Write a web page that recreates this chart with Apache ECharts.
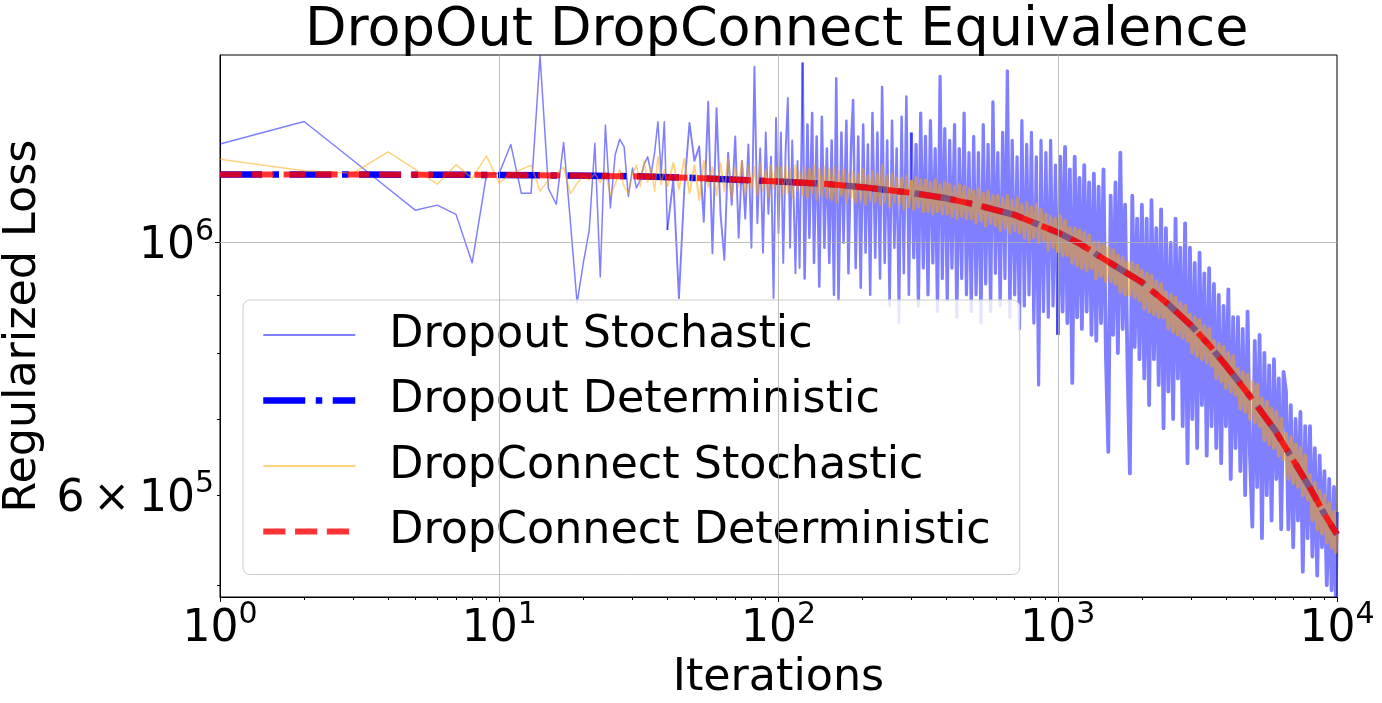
<!DOCTYPE html>
<html>
<head>
<meta charset="utf-8">
<script src="https://cdn.jsdelivr.net/npm/echarts@6/dist/echarts.min.js"></script>
<style>
html, body { margin: 0; padding: 0; background: #ffffff; }
#chart { width: 1382px; height: 703px; }
</style>
</head>
<body>
<div id="chart"></div>
<script>
// ---------------- data ----------------
const seriesNames = ['Dropout Stochastic', 'Dropout Deterministic', 'DropConnect Stochastic', 'DropConnect Deterministic'];

// sampled iterations for the stochastic runs
const iterations = [
  1,2,3,4,5,6,7,8,9,10,
  11,12,13,14,15,16,17,18,19,20,
  21,22,23,24,25,26,27,28,29,30,
  31,32,33,34,35,36,37,38,39,40,
  42,44,46,48,50,52,54,56,58,60,
  62,64,66,68,70,72,74,76,78,80,
  82,84,86,88,90,92,94,96,98,100,
  102,104,106,108,110,112,115,117,119,122,
  124,127,129,132,134,137,140,143,146,149,
  152,155,158,161,164,168,171,175,178,182,
  185,189,193,197,201,205,209,213,217,222,
  226,231,235,240,245,250,255,260,265,270,
  276,281,287,293,299,305,311,317,323,330,
  336,343,350,357,364,371,379,386,394,402,
  410,418,427,435,444,453,462,471,481,490,
  500,510,520,531,541,552,563,575,586,598,
  610,622,635,647,660,674,687,701,715,729,
  744,759,774,789,805,821,838,854,871,889,
  907,925,943,962,981,1001,1021,1041,1062,1083,
  1105,1127,1150,1173,1196,1220,1244,1269,1295,1321,
  1347,1374,1401,1429,1458,1487,1517,1547,1578,1610,
  1642,1675,1708,1742,1777,1813,1849,1886,1924,1962,
  2001,2041,2082,2124,2166,2210,2254,2299,2345,2392,
  2440,2488,2538,2589,2641,2693,2747,2802,2858,2915,
  2974,3033,3094,3156,3219,3283,3349,3416,3484,3554,
  3625,3697,3771,3847,3924,4002,4082,4164,4247,4332,
  4419,4507,4597,4689,4783,4879,4976,5076,5177,5281,
  5386,5494,5604,5716,5830,5947,6066,6187,6311,6437,
  6566,6697,6831,6968,7107,7249,7394,7542,7693,7847,
  8004,8164,8327,8494,8664,8837,9014,9194,9378,9565,
  9757,9900,10000
];

const dropoutStochastic = [
  1.221e6,1.278e6,1.181e6,1.116e6,1.068e6,1.079e6,1.059e6,0.960e6,1.147e6,1.151e6,
  1.220e6,1.105e6,1.105e6,1.460e6,1.116e6,1.081e6,1.225e6,1.040e6,0.885e6,0.960e6,
  1.026e6,1.223e6,0.933e6,1.269e6,1.073e6,1.194e6,1.233e6,1.214e6,1.098e6,1.163e6,
  1.117e6,1.136e6,1.171e6,1.190e6,1.150e6,1.200e6,1.277e6,1.150e6,1.277e6,1.026e6,
  1.136e6,0.894e6,1.117e6,1.274e6,1.180e6,1.215e6,1.043e6,1.330e6,0.979e6,1.313e6,
  1.060e6,0.966e6,1.200e6,1.080e6,1.240e6,1.010e6,1.180e6,1.050e6,1.220e6,0.990e6,
  1.428e6,1.040e6,1.210e6,0.980e6,1.250e6,1.060e6,1.190e6,0.894e6,1.287e6,1.020e6,
  1.250e6,0.960e6,1.200e6,1.340e6,0.990e6,1.230e6,0.940e6,1.180e6,0.950e6,1.440e6,
  0.930e6,1.270e6,1.010e6,1.300e6,0.960e6,1.240e6,0.915e6,1.290e6,0.990e6,1.210e6,
  0.960e6,1.230e6,0.900e6,1.395e6,0.890e6,1.250e6,1.000e6,1.280e6,0.940e6,1.220e6,
  1.335e6,0.950e6,1.240e6,0.913e6,1.270e6,0.980e6,1.220e6,0.900e6,1.300e6,0.970e6,
  1.250e6,0.930e6,1.370e6,0.960e6,1.230e6,0.880e6,1.280e6,0.990e6,1.210e6,0.850e6,
  1.290e6,0.940e6,1.344e6,0.900e6,1.250e6,0.970e6,1.220e6,0.880e6,1.300e6,0.950e6,
  1.240e6,0.900e6,1.280e6,0.960e6,1.210e6,0.870e6,1.400e6,0.930e6,1.260e6,0.890e6,
  1.230e6,0.950e6,1.270e6,0.860e6,1.210e6,0.930e6,1.300e6,0.900e6,1.200e6,0.870e6,
  1.240e6,0.900e6,1.200e6,0.850e6,1.270e6,0.920e6,1.220e6,0.870e6,1.330e6,0.940e6,
  1.200e6,0.880e6,1.250e6,0.930e6,1.416e6,0.860e6,1.230e6,0.900e6,1.190e6,0.840e6,
  1.280e6,0.880e6,1.220e6,0.900e6,1.250e6,0.850e6,1.190e6,0.750e6,1.230e6,0.870e6,
  1.200e6,0.860e6,1.230e6,0.880e6,1.170e6,0.830e6,1.190e6,0.870e6,1.214e6,0.850e6,
  1.160e6,0.753e6,1.190e6,0.860e6,1.140e6,0.840e6,1.170e6,0.870e6,1.130e6,0.830e6,
  1.150e6,0.820e6,1.120e6,0.850e6,1.160e6,0.800e6,0.655e6,1.100e6,0.830e6,1.130e6,
  0.800e6,1.200e6,0.840e6,1.080e6,0.780e6,0.627e6,1.100e6,0.810e6,1.050e6,0.790e6,
  1.080e6,0.760e6,1.050e6,0.720e6,1.090e6,0.790e6,1.030e6,0.750e6,1.070e6,0.687e6,
  1.030e6,0.740e6,1.000e6,0.700e6,1.050e6,0.760e6,0.990e6,0.690e6,1.040e6,0.640e6,
  0.990e6,0.700e6,0.960e6,0.660e6,0.980e6,0.720e6,0.940e6,0.650e6,0.950e6,0.690e6,
  0.920e6,0.660e6,0.900e6,0.640e6,0.880e6,0.690e6,0.910e6,0.620e6,0.860e6,0.660e6,
  0.860e6,0.630e6,0.840e6,0.600e6,0.870e6,0.650e6,0.563e6,0.820e6,0.610e6,0.830e6,
  0.550e6,0.800e6,0.600e6,0.780e6,0.570e6,0.790e6,0.620e6,0.760e6,0.560e6,0.770e6,
  0.740e6,0.560e6,0.720e6,0.540e6,0.700e6,0.570e6,0.710e6,0.514e6,0.690e6,0.550e6,
  0.690e6,0.530e6,0.660e6,0.510e6,0.650e6,0.540e6,0.630e6,0.500e6,0.620e6,0.495e6,
  0.610e6,0.490e6,0.580e6
];

const dropconnectStochastic = [
  1.184e6,1.157e6,1.151e6,1.202e6,1.160e6,1.126e6,1.171e6,1.139e6,1.192e6,1.128e6,
  1.150e6,1.160e6,1.170e6,1.110e6,1.135e6,1.150e6,1.165e6,1.104e6,1.128e6,1.145e6,
  1.135e6,1.150e6,1.130e6,1.155e6,1.100e6,1.125e6,1.160e6,1.120e6,1.105e6,1.150e6,
  1.170e6,1.120e6,1.180e6,1.130e6,1.165e6,1.110e6,1.190e6,1.125e6,1.160e6,1.120e6,
  1.175e6,1.115e6,1.185e6,1.105e6,1.170e6,1.090e6,1.180e6,1.120e6,1.165e6,1.100e6,
  1.175e6,1.110e6,1.185e6,1.095e6,1.165e6,1.120e6,1.180e6,1.105e6,1.170e6,1.115e6,
  1.165e6,1.100e6,1.175e6,1.110e6,1.160e6,1.095e6,1.170e6,1.115e6,1.165e6,1.105e6,
  1.165e6,1.100e6,1.170e6,1.105e6,1.160e6,1.095e6,1.170e6,1.110e6,1.155e6,1.100e6,
  1.165e6,1.095e6,1.160e6,1.105e6,1.170e6,1.090e6,1.160e6,1.100e6,1.165e6,1.095e6,
  1.160e6,1.090e6,1.165e6,1.085e6,1.155e6,1.100e6,1.160e6,1.085e6,1.150e6,1.095e6,
  1.155e6,1.085e6,1.150e6,1.090e6,1.160e6,1.080e6,1.145e6,1.090e6,1.155e6,1.085e6,
  1.150e6,1.080e6,1.170e6,1.085e6,1.145e6,1.075e6,1.150e6,1.085e6,1.140e6,1.080e6,
  1.140e6,1.070e6,1.145e6,1.075e6,1.135e6,1.070e6,1.140e6,1.075e6,1.135e6,1.065e6,
  1.135e6,1.065e6,1.130e6,1.060e6,1.135e6,1.065e6,1.125e6,1.060e6,1.130e6,1.060e6,
  1.125e6,1.055e6,1.120e6,1.050e6,1.125e6,1.055e6,1.120e6,1.050e6,1.115e6,1.050e6,
  1.110e6,1.040e6,1.115e6,1.045e6,1.105e6,1.035e6,1.110e6,1.040e6,1.100e6,1.035e6,
  1.100e6,1.025e6,1.095e6,1.030e6,1.100e6,1.020e6,1.090e6,1.025e6,1.095e6,1.020e6,
  1.080e6,1.010e6,1.085e6,1.005e6,1.075e6,1.010e6,1.080e6,1.000e6,1.070e6,1.005e6,
  1.060e6,0.985e6,1.055e6,0.990e6,1.050e6,0.980e6,1.055e6,0.975e6,1.045e6,0.975e6,
  1.030e6,0.960e6,1.030e6,0.955e6,1.025e6,0.950e6,1.020e6,0.945e6,1.015e6,0.950e6,
  1.000e6,0.930e6,1.000e6,0.935e6,0.995e6,0.925e6,0.990e6,0.925e6,0.985e6,0.920e6,
  0.975e6,0.905e6,0.970e6,0.900e6,0.960e6,0.900e6,0.960e6,0.895e6,0.955e6,0.890e6,
  0.945e6,0.875e6,0.940e6,0.870e6,0.935e6,0.865e6,0.925e6,0.860e6,0.920e6,0.860e6,
  0.905e6,0.840e6,0.900e6,0.835e6,0.895e6,0.830e6,0.885e6,0.825e6,0.880e6,0.820e6,
  0.865e6,0.800e6,0.860e6,0.795e6,0.855e6,0.790e6,0.845e6,0.785e6,0.840e6,0.780e6,
  0.820e6,0.760e6,0.815e6,0.755e6,0.810e6,0.745e6,0.800e6,0.740e6,0.795e6,0.735e6,
  0.775e6,0.715e6,0.770e6,0.710e6,0.765e6,0.700e6,0.755e6,0.695e6,0.750e6,0.690e6,
  0.730e6,0.670e6,0.725e6,0.665e6,0.715e6,0.660e6,0.710e6,0.650e6,0.700e6,0.645e6,
  0.680e6,0.620e6,0.675e6,0.615e6,0.665e6,0.610e6,0.660e6,0.600e6,0.650e6,0.595e6,
  0.625e6,0.570e6,0.615e6,0.560e6,0.605e6,0.555e6,0.600e6,0.545e6,0.590e6,0.540e6,
  0.580e6,0.535e6,0.560e6
];

// deterministic curves
const deterministicIterations = [1,3,10,30,50,100,150,200,300,400,500,700,1000,1200,1400,1700,2000,2500,3000,3500,4000,4500,5000,6000,7000,8000,9000,10000];
const dropoutDeterministic = [1.148e6,1.148e6,1.147e6,1.144e6,1.140e6,1.132e6,1.126e6,1.119e6,1.106e6,1.094e6,1.081e6,1.058e6,1.021e6,0.998e6,0.974e6,0.946e6,0.923e6,0.882e6,0.846e6,0.812e6,0.780e6,0.752e6,0.727e6,0.684e6,0.643e6,0.609e6,0.578e6,0.554e6];
const dropconnectDeterministic = [1.148e6,1.148e6,1.147e6,1.144e6,1.140e6,1.132e6,1.126e6,1.119e6,1.106e6,1.094e6,1.081e6,1.058e6,1.021e6,0.998e6,0.974e6,0.946e6,0.923e6,0.882e6,0.846e6,0.812e6,0.780e6,0.752e6,0.727e6,0.684e6,0.643e6,0.609e6,0.578e6,0.554e6];

// axes
const xMajorTicks = [1, 10, 100, 1000, 10000];
const xMinorTicks = [2,3,4,5,6,7,8,9,20,30,40,50,60,70,80,90,200,300,400,500,600,700,800,900,2000,3000,4000,5000,6000,7000,8000,9000];
const yMajorTicks = [1e6];
const yMinorTicks = [5e5, 6e5, 7e5, 8e5, 9e5];
const yLabelTicks = [6e5, 1e6];
const xRange = [1, 10000];
const yRange = [4.883e5, 1.462e6];
// the stochastic runs are drawn in pieces whose sampled points get denser to the right
const pieceStarts = [40, 122, 299, 1001];

// ---------------- chart ----------------
const FONT = 'DejaVu Sans';
function zip(xs, ys) { return xs.map(function (x, i) { return [x, ys[i]]; }); }
function sciLabel(v) {
  const e = Math.floor(Math.log10(v) + 1e-9);
  const m = Math.round(v / Math.pow(10, e));
  return m === 1 ? '{b|10}{s|' + e + '}' : '{b|' + m + '\u2009\u00d7\u200910}{s|' + e + '}';
}
const richLabel = {
  b: { fontSize: 44, fontFamily: FONT, color: '#000', lineHeight: 52, verticalAlign: 'bottom' },
  s: { fontSize: 30, fontFamily: FONT, color: '#000', lineHeight: 26, verticalAlign: 'top' }
};
const gridLineData = xMajorTicks.slice(1, -1).map(function (v) { return { xAxis: v }; })
  .concat(yMajorTicks.map(function (v) { return { yAxis: v }; }));

const cuts = [0].concat(pieceStarts.map(function (s) { return iterations.indexOf(s); }), [iterations.length - 1]);
function pieces(pts) {
  const out = [];
  for (let i = 0; i < cuts.length - 1; i++) out.push(pts.slice(cuts[i], cuts[i + 1] + 1));
  return out;
}
const pieceWidths = [1.5, 1.9, 2.5, 3.2, 3.8];
const dropoutPts = zip(iterations, dropoutStochastic);
const dropconnectPts = zip(iterations, dropconnectStochastic);

const blueStyle = 'rgba(0,0,255,0.5)';
const orangeStyle = 'rgba(255,165,0,0.5)';
const redStyle = 'rgba(255,0,0,0.8)';
const blueDash = [42, 10.5, 6.5, 10.5];
const redDash = [22.2, 9.6];

function stochSeries(name, pts, color, width, extra) {
  return Object.assign({
    name: name, type: 'line', xAxisIndex: 0, yAxisIndex: 0,
    data: pts, symbol: 'none', showSymbol: false, emphasis: { disabled: true },
    lineStyle: { color: color, width: width, join: 'round' },
    itemStyle: { color: color }
  }, extra || {});
}

const gridMarkLine = {
  silent: true, symbol: ['none', 'none'], label: { show: false }, animation: false,
  lineStyle: { color: '#b0b0b0', width: 0.8, type: 'solid' },
  emphasis: { disabled: true },
  data: gridLineData
};

const series = [];
pieces(dropoutPts).forEach(function (p, i) {
  series.push(stochSeries(seriesNames[0], p, blueStyle, pieceWidths[i], i === 0 ? { markLine: gridMarkLine } : null));
});
series.push({
  name: seriesNames[1], type: 'line', xAxisIndex: 0, yAxisIndex: 0,
  data: zip(deterministicIterations, dropoutDeterministic),
  symbol: 'none', showSymbol: false, emphasis: { disabled: true },
  lineStyle: { color: '#0000ff', width: 6.5, type: blueDash, cap: 'butt' },
  itemStyle: { color: '#0000ff' }
});
pieces(dropconnectPts).forEach(function (p, i) {
  series.push(stochSeries(seriesNames[2], p, orangeStyle, pieceWidths[i]));
});
series.push({
  name: seriesNames[3], type: 'line', xAxisIndex: 0, yAxisIndex: 0,
  data: zip(deterministicIterations, dropconnectDeterministic),
  symbol: 'none', showSymbol: false, emphasis: { disabled: true },
  lineStyle: { color: redStyle, width: 6, type: redDash, cap: 'butt' },
  itemStyle: { color: redStyle }
});

const chart = echarts.init(document.getElementById('chart'), null, { renderer: 'canvas' });
const option = {
  animation: false,
  backgroundColor: '#ffffff',
  title: {
    text: 'DropOut DropConnect Equivalence',
    left: 305, top: 4, padding: 0,
    textStyle: { fontFamily: FONT, fontSize: 54, fontWeight: 'normal', color: '#000' }
  },
  grid: {
    left: 220, right: 45, top: 55, bottom: 106,
    containLabel: false, outerBoundsMode: 'none',
    show: true, borderColor: '#000', borderWidth: 1, backgroundColor: 'transparent'
  },
  legend: {
    orient: 'vertical', left: 243, top: 300,
    itemWidth: 92, itemHeight: 14, itemGap: 15.5,
    padding: [10, 29, 18, 17],
    backgroundColor: 'rgba(255,255,255,0.8)', borderColor: '#cccccc', borderWidth: 1, borderRadius: 7,
    selectedMode: false,
    itemStyle: { opacity: 0 },
    textStyle: { fontFamily: FONT, fontSize: 44.4, color: '#000', lineHeight: 50, padding: [0, 0, 0, 29] },
    data: [
      { name: seriesNames[0], lineStyle: { color: blueStyle, width: 1.8, type: 'solid' } },
      { name: seriesNames[1], lineStyle: { color: '#0000ff', width: 6.5, type: blueDash, cap: 'butt' } },
      { name: seriesNames[2], lineStyle: { color: orangeStyle, width: 1.8, type: 'solid' } },
      { name: seriesNames[3], lineStyle: { color: redStyle, width: 6, type: redDash, cap: 'butt' } }
    ]
  },
  xAxis: [
    {
      type: 'log', logBase: 10, min: xRange[0], max: xRange[1], position: 'bottom',
      name: 'Iterations', nameLocation: 'middle', nameGap: 50,
      nameTextStyle: { fontFamily: FONT, fontSize: 44.4, color: '#000' },
      axisLine: { show: true, onZero: false, lineStyle: { color: '#000', width: 1 } },
      axisTick: { show: true, length: 5, customValues: xMajorTicks, lineStyle: { color: '#000', width: 1 } },
      axisLabel: { show: true, customValues: xMajorTicks, formatter: sciLabel, rich: richLabel, margin: 3 },
      splitLine: { show: false }
    },
    {
      type: 'log', logBase: 10, min: xRange[0], max: xRange[1], position: 'bottom',
      axisLine: { show: false },
      axisTick: { show: true, length: 3, customValues: xMinorTicks, lineStyle: { color: '#000', width: 1 } },
      axisLabel: { show: false },
      splitLine: { show: false }
    }
  ],
  yAxis: [
    {
      type: 'log', logBase: 10, min: yRange[0], max: yRange[1], position: 'left',
      name: 'Regularized Loss', nameLocation: 'middle', nameGap: 150, nameRotate: 90,
      nameTextStyle: { fontFamily: FONT, fontSize: 44.4, color: '#000' },
      axisLine: { show: true, onZero: false, lineStyle: { color: '#000', width: 1 } },
      axisTick: { show: true, length: 5, customValues: yMajorTicks, lineStyle: { color: '#000', width: 1 } },
      axisLabel: { show: true, customValues: yLabelTicks, formatter: sciLabel, rich: richLabel, margin: 6 },
      splitLine: { show: false }
    },
    {
      type: 'log', logBase: 10, min: yRange[0], max: yRange[1], position: 'left',
      axisLine: { show: false },
      axisTick: { show: true, length: 3, customValues: yMinorTicks, lineStyle: { color: '#000', width: 1 } },
      axisLabel: { show: false },
      splitLine: { show: false }
    }
  ],
  series: series
};
chart.setOption(option);
</script>
</body>
</html>
